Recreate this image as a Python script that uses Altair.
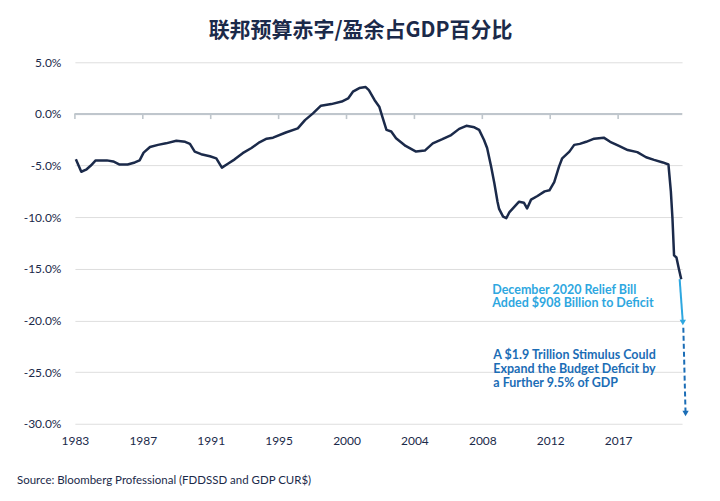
import altair as alt
import pandas as pd

# ---- data ----
years = [1983.06, 1983.4, 1983.7, 1984.0, 1984.3, 1984.6, 1985.0, 1985.4, 1985.8, 1986.3,
         1986.75, 1987.05, 1987.3, 1987.7, 1988.2, 1988.7, 1989.35, 1989.9, 1990.2, 1990.5,
         1990.9, 1991.45, 1991.85, 1992.2, 1992.6, 1993.0, 1993.5, 1994.05, 1994.55, 1995.0,
         1995.4, 1996.2, 1996.95, 1997.4, 1997.9, 1998.4, 1999.05, 1999.7, 2000.1, 2000.4,
         2000.8, 2001.2, 2001.4, 2001.75, 2002.05, 2002.25, 2002.5, 2002.8, 2003.1, 2003.7,
         2004.35, 2004.9, 2005.4, 2006.0, 2006.55, 2007.05, 2007.5, 2008.0, 2008.3, 2008.6,
         2008.8, 2009.05, 2009.25, 2009.45, 2009.55, 2009.8, 2010.0, 2010.2, 2010.5, 2010.8,
         2011.1, 2011.3, 2011.55, 2011.95, 2012.4, 2012.7, 2013.0, 2013.3, 2013.5, 2013.95,
         2014.25, 2014.6, 2015.0, 2015.5, 2016.1, 2016.5, 2017.05, 2017.6, 2018.2, 2018.75,
         2019.25, 2019.8, 2020.15, 2020.3, 2020.4, 2020.5, 2020.65, 2020.8, 2020.95]
values = [-4.4, -5.6, -5.4, -5.0, -4.5, -4.5, -4.5, -4.6, -4.9, -4.9,
          -4.7, -4.5, -3.75, -3.2, -3.0, -2.85, -2.6, -2.7, -2.9, -3.65,
          -3.9, -4.1, -4.3, -5.2, -4.8, -4.4, -3.8, -3.3, -2.75, -2.4,
          -2.3, -1.8, -1.4, -0.6, 0.05, 0.8, 0.95, 1.2, 1.5, 2.15,
          2.5, 2.6, 2.3, 1.35, 0.7, -0.3, -1.55, -1.7, -2.35, -3.1,
          -3.65, -3.55, -2.85, -2.45, -2.05, -1.45, -1.15, -1.3, -1.55, -2.5,
          -3.3, -5.1, -6.7, -8.5, -9.2, -9.95, -10.1, -9.5, -9.0, -8.5,
          -8.6, -9.15, -8.3, -7.95, -7.5, -7.4, -6.6, -5.1, -4.3, -3.65,
          -3.0, -2.9, -2.7, -2.4, -2.3, -2.7, -3.1, -3.5, -3.7, -4.2,
          -4.45, -4.7, -4.9, -7.5, -10.1, -13.7, -13.9, -15.0, -16.0]

tick_pos = [1983, 1987.25, 1991.5, 1995.75, 2000, 2004.25, 2008.5, 2012.75, 2017]
tick_labels = ["1983", "1987", "1991", "1995", "2000", "2004", "2008", "2012", "2017"]
y_ticks = [5, 0, -5, -10, -15, -20, -25, -30]

relief_x = [2020.85, 2021.05]
relief_y = [-16.0, -20.2]
stim_x = [2021.08, 2021.22]
stim_y = [-20.7, -29.0]

title_text = "联邦预算赤字/盈余占GDP百分比"
source_text = "Source: Bloomberg Professional (FDDSSD and GDP CUR$)"
note1 = ["December 2020 Relief Bill", "Added $908 Billion to Deficit"]
note2 = ["A $1.9 Trillion Stimulus Could", "Expand the Budget Deficit by", "a Further 9.5% of GDP"]

NAVY = "#1b2a4a"
LIGHT = "#2ea7e0"
DARKB = "#1b6db6"
GRID = "#dedede"
ZERO = "#bfc6cc"
FONT = "Lato"
CJK = "Noto Sans CJK SC"

df = pd.DataFrame({"year": years, "value": values})
ticks_df = pd.DataFrame({"year": tick_pos, "zero": [0.0] * len(tick_pos),
                         "low": [-0.5] * len(tick_pos)})
relief_df = pd.DataFrame({"year": relief_x, "value": relief_y})
stim_df = pd.DataFrame({"year": stim_x, "value": stim_y})
one = pd.DataFrame({"k": [0]})

x_scale = alt.Scale(domain=[1983, 2021], nice=False, zero=False)
y_scale = alt.Scale(domain=[-30, 5], nice=False, zero=False)

label_expr = ("[" + ",".join(f"'{l}'" for l in tick_labels) + "][indexof(["
              + ",".join(str(p) for p in tick_pos) + "], datum.value)]")

line = alt.Chart(df).mark_line(color=NAVY, strokeWidth=2.5, strokeJoin="round").encode(
    x=alt.X("year:Q", scale=x_scale,
            axis=alt.Axis(orient="bottom", values=tick_pos, labelExpr=label_expr, title=None,
                          grid=False, domain=False, ticks=False, tickSize=0, labelPadding=12,
                          labelFontSize=12, labelColor=NAVY, labelFont=FONT, labelFlush=False)),
    y=alt.Y("value:Q", scale=y_scale,
            axis=alt.Axis(values=y_ticks,
                          labelExpr="(datum.value < 0 ? '-' : '') + format(abs(datum.value), '.1f') + '%'",
                          title=None, grid=True, gridColor=GRID, gridWidth=1, domain=False,
                          ticks=False, tickSize=0, labelPadding=14, labelFontSize=12,
                          labelColor=NAVY, labelFont=FONT)),
)

zero_line = alt.Chart(ticks_df).mark_rule(color=ZERO, strokeWidth=1.6).encode(
    y=alt.Y("zero:Q", scale=y_scale))
zero_ticks = alt.Chart(ticks_df).mark_rule(color=ZERO, strokeWidth=1.6).encode(
    x=alt.X("year:Q", scale=x_scale),
    y=alt.Y("zero:Q", scale=y_scale), y2=alt.Y2("low:Q"))

relief_line = alt.Chart(relief_df).mark_line(color=LIGHT, strokeWidth=2).encode(
    x=alt.X("year:Q", scale=x_scale), y=alt.Y("value:Q", scale=y_scale))
relief_head = alt.Chart(relief_df.tail(1)).mark_point(
    shape="triangle-down", filled=True, size=40, color=LIGHT, opacity=1).encode(
    x=alt.X("year:Q", scale=x_scale), y=alt.Y("value:Q", scale=y_scale))
stim_line = alt.Chart(stim_df).mark_line(color=DARKB, strokeWidth=2, strokeDash=[5, 3]).encode(
    x=alt.X("year:Q", scale=x_scale), y=alt.Y("value:Q", scale=y_scale))
stim_head = alt.Chart(stim_df.tail(1)).mark_point(
    shape="triangle-down", filled=True, size=40, color=DARKB, opacity=1).encode(
    x=alt.X("year:Q", scale=x_scale), y=alt.Y("value:Q", scale=y_scale))

t1 = alt.Chart(one).mark_text(align="left", baseline="alphabetic", font=FONT, fontSize=12.5,
                              fontWeight="bold", color=LIGHT, lineHeight=13.5).encode(
    x=alt.value(418), y=alt.value(232), text=alt.value(note1))
t2 = alt.Chart(one).mark_text(align="left", baseline="alphabetic", font=FONT, fontSize=12.5,
                              fontWeight="bold", color=DARKB, lineHeight=14).encode(
    x=alt.value(419), y=alt.value(297), text=alt.value(note2))
src = alt.Chart(one).mark_text(align="left", baseline="middle", font=FONT, fontSize=11.5,
                               color=NAVY).encode(
    x=alt.value(-58), y=alt.value(419), text=alt.value(source_text))

chart = alt.layer(zero_line, zero_ticks, line, relief_line, relief_head, stim_line, stim_head,
                  t1, t2, src).properties(
    width=608, height=362,
    autosize=alt.AutoSizeParams(type="none"),
    padding={"left": 67, "top": 54, "right": 30, "bottom": 70},
    title=alt.TitleParams(title_text, font=CJK, fontSize=21, fontWeight="bold", color=NAVY,
                          anchor="middle", dx=-18, offset=15),
).configure_view(stroke=None)

chart.save("out.html", embed_options={"renderer": "svg", "actions": False})
